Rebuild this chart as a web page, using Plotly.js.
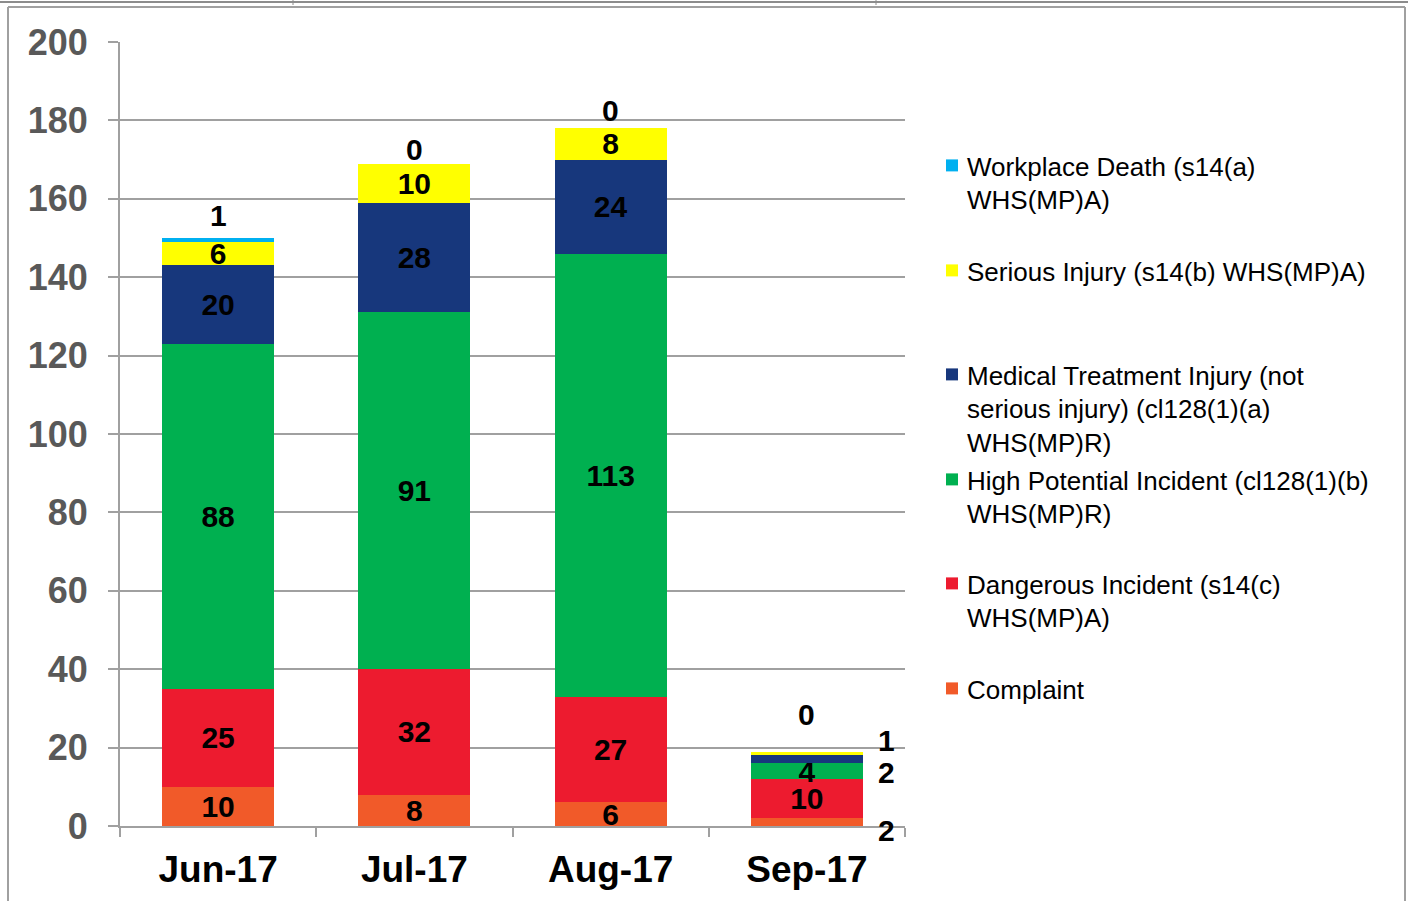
<!DOCTYPE html>
<html>
<head>
<meta charset="utf-8">
<script src="https://cdn.plot.ly/plotly-3.0.1.min.js"></script>
<style>html,body{margin:0;padding:0;background:#fff;}#chart{width:1408px;height:901px;}</style>
</head>
<body>
<div id="chart"></div>
<script>
// ---- data ----
const months = ["Jun-17", "Jul-17", "Aug-17", "Sep-17"];
const complaint = [10, 8, 6, 2];
const dangerous = [25, 32, 27, 10];
const highPotential = [88, 91, 113, 4];
const medical = [20, 28, 24, 2];
const serious = [6, 10, 8, 1];
const death = [1, 0, 0, 0];
const yTicks = [0, 20, 40, 60, 80, 100, 120, 140, 160, 180, 200];

const names = {
  death: "Workplace Death (s14(a)<br>WHS(MP)A)",
  serious: "Serious Injury (s14(b) WHS(MP)A)",
  medical: "Medical Treatment Injury (not<br>serious injury) (cl128(1)(a)<br>WHS(MP)R)",
  hp: "High Potential Incident (cl128(1)(b)<br>WHS(MP)R)",
  dangerous: "Dangerous Incident (s14(c)<br>WHS(MP)A)",
  complaint: "Complaint"
};

// ---- style ----
const W = 1408, H = 901;
const M = {l: 120, r: W - 905, t: 42, b: H - 826};
const plotW = W - M.l - M.r, plotH = H - M.t - M.b;
const px2x = p => (p - M.l) / plotW;
const py2y = p => (H - M.b - p) / plotH;
const FONT = "Arial, 'Liberation Sans', sans-serif";
const colors = {
  death: "#00B0F0", serious: "#FFFF00", medical: "#17377C",
  hp: "#00B050", dangerous: "#ED1B2F", complaint: "#F15A29"
};
const gray = "#A0A0A0";
const labelFont = {family: FONT, size: 30, color: "#000000", weight: "bold"};
// labels for the small last-month segments are drawn outside the bar
const outsideIdx = 3;
const outsideShift = {serious: 13, medical: -13, complaint: -8};
const deathShift = [23, 14, 18, 37];
const legendTopPx = [142, 247, 351, 456, 560, 665];

const series = [
  {key: "complaint", vals: complaint, legend: "legend6"},
  {key: "dangerous", vals: dangerous, legend: "legend5"},
  {key: "hp", vals: highPotential, legend: "legend4"},
  {key: "medical", vals: medical, legend: "legend3"},
  {key: "serious", vals: serious, legend: "legend2"},
  {key: "death", vals: death, legend: "legend"}
];

const traces = series.map(s => ({
  type: "bar",
  name: names[s.key],
  x: months,
  y: s.vals,
  legend: s.legend,
  marker: {color: colors[s.key], line: {width: 0}},
  text: s.vals.map((v, i) => {
    if (s.key === "death") return "";
    if (i === outsideIdx && outsideShift[s.key] !== undefined) return "";
    return v > 0 ? String(v) : "";
  }),
  textposition: "inside",
  insidetextanchor: "middle",
  textangle: 0,
  constraintext: "none",
  textfont: labelFont,
  hoverinfo: "x+y+name"
}));

// annotations: positions computed from the stacked data
const annotations = [];
const cum = months.map(() => 0);
series.forEach(s => {
  s.vals.forEach((v, i) => {
    const base = cum[i];
    if (i === outsideIdx && outsideShift[s.key] !== undefined) {
      annotations.push({
        x: months[i], y: base + v / 2, xref: "x", yref: "y",
        text: String(v), showarrow: false, xshift: 80,
        yshift: outsideShift[s.key], font: labelFont
      });
    }
    cum[i] = base + v;
  });
});
death.forEach((v, i) => {
  annotations.push({
    x: months[i], y: cum[i], xref: "x", yref: "y",
    text: String(v), showarrow: false, yshift: deathShift[i],
    font: labelFont
  });
});

const legendBase = {
  x: px2x(927), xanchor: "left", yanchor: "top",
  font: {family: FONT, size: 26, color: "#000000"},
  bgcolor: "rgba(0,0,0,0)", borderwidth: 0, valign: "top"
};
const legendKeys = ["legend", "legend2", "legend3", "legend4", "legend5", "legend6"];

const shapes = [
  // outer frame
  {type: "line", xref: "paper", yref: "paper", x0: px2x(8), x1: px2x(1405), y0: py2y(7), y1: py2y(7), line: {color: gray, width: 2}},
  {type: "line", xref: "paper", yref: "paper", x0: px2x(8), x1: px2x(8), y0: py2y(7), y1: py2y(905), line: {color: gray, width: 2}},
  {type: "line", xref: "paper", yref: "paper", x0: px2x(1405), x1: px2x(1405), y0: py2y(7), y1: py2y(905), line: {color: gray, width: 2}},
  // top strip
  {type: "line", xref: "paper", yref: "paper", x0: px2x(0), x1: px2x(1408), y0: py2y(2), y1: py2y(2), line: {color: "#8C8C8C", width: 2}},
  {type: "line", xref: "paper", yref: "paper", x0: px2x(293), x1: px2x(293), y0: py2y(0), y1: py2y(5), line: {color: "#8C8C8C", width: 1}},
  {type: "line", xref: "paper", yref: "paper", x0: px2x(876), x1: px2x(876), y0: py2y(0), y1: py2y(5), line: {color: "#8C8C8C", width: 1}}
];

const layout = {
  width: W, height: H,
  margin: M,
  paper_bgcolor: "#ffffff", plot_bgcolor: "#ffffff",
  barmode: "stack",
  bargap: 0.43,
  font: {family: FONT},
  xaxis: {
    type: "category",
    showline: true, linecolor: gray, linewidth: 2,
    ticks: "outside", tickson: "boundaries", ticklen: 9, tickcolor: gray, tickwidth: 2,
    tickfont: {family: FONT, size: 37, color: "#000000", weight: "bold"},
    ticklabelstandoff: 10,
    showgrid: false, zeroline: false, fixedrange: true
  },
  yaxis: {
    range: [0, 200], tickvals: yTicks, ticktext: yTicks.map(String),
    showline: true, linecolor: gray, linewidth: 2,
    ticks: "outside", ticklen: 10, tickcolor: gray, tickwidth: 2,
    showgrid: true, gridcolor: gray, gridwidth: 2,
    zeroline: false,
    tickfont: {family: FONT, size: 36, color: "#595959", weight: "bold"},
    ticklabelstandoff: 13,
    fixedrange: true
  },
  showlegend: true,
  annotations: annotations,
  shapes: shapes
};
legendKeys.forEach((k, i) => {
  layout[k] = Object.assign({}, legendBase, {y: py2y(legendTopPx[i])});
});

Plotly.newPlot("chart", traces, layout, {displayModeBar: false, staticPlot: true}).then(gd => {
  // bring legend swatches closer to their text, as in the reference
  gd.querySelectorAll(".legendsymbols").forEach(g => g.setAttribute("transform", "translate(5,0)"));
});
</script>
</body>
</html>
